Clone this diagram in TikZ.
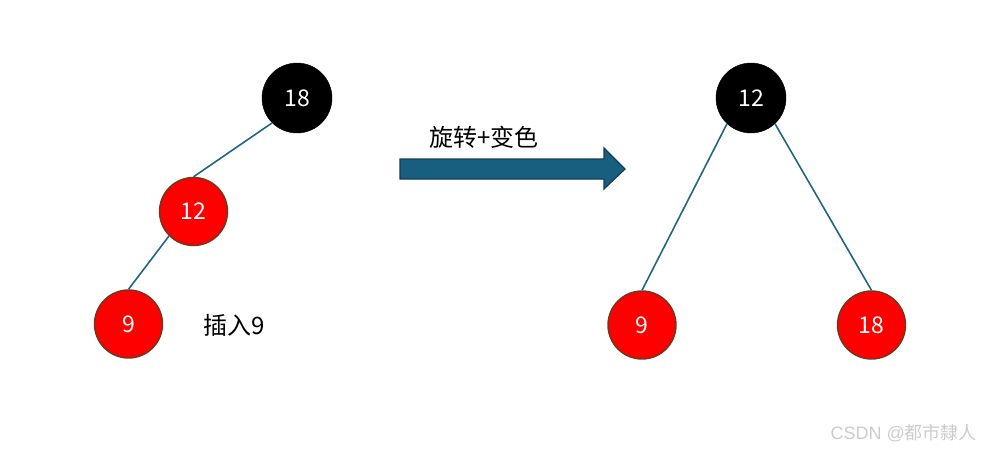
\documentclass[tikz,border=0pt]{standalone}
\usepackage{fontspec}
\setmainfont{Noto Sans CJK SC}
\newfontfamily\wmfont{Liberation Sans}
\newfontfamily\wmcjk{Noto Sans CJK SC}
\definecolor{edgec}{HTML}{1F6686}
\definecolor{arrowfill}{HTML}{185E7E}
\definecolor{arrowdraw}{HTML}{123F55}
\definecolor{redborder}{HTML}{6B3A1E}
\tikzset{
  blacknode/.style={circle, fill=black, draw=black, minimum size=70pt, inner sep=0pt, text=white, font=\fontsize{23}{25}\selectfont},
  rednode/.style={circle, fill=red, draw=redborder, line width=1.4pt, minimum size=68pt, inner sep=0pt, text=white, font=\fontsize{23}{25}\selectfont},
  treeedge/.style={draw=edgec, line width=1.6pt},
  label text/.style={font=\fontsize{24}{27}\selectfont, text=black, inner sep=0pt},
}
\begin{document}
\begin{tikzpicture}[x=1pt, y=-1pt]
\useasboundingbox (0,0) rectangle (981,451);
% left tree
\node[blacknode] (a18) at (297,98) {18};
\node[rednode] (a12) at (193.5,211.5) {12};
\node[rednode] (a9) at (128.5,324) {9};
\draw[treeedge] (a18.225) -- (a12.north);
\draw[treeedge] (a12.225) -- (a9.north);
\node[label text, anchor=west] (ins) at (203,325) {插入9};
% arrow
\draw[fill=arrowfill, draw=arrowdraw, line width=1.2pt, line join=miter]
  (400,159) -- (604,159) -- (604,148) -- (625,169) -- (604,189) -- (604,179) -- (400,179) -- cycle;
\node[label text, anchor=west] (rot) at (429,137) {旋转+变色};
% right tree
\node[blacknode] (b12) at (751,98) {12};
\node[rednode] (b9) at (642,325) {9};
\node[rednode] (b18) at (871.5,325) {18};
\draw[treeedge] (b12.227) -- (b9.north);
\draw[treeedge] (b12.-47) -- (b18.north);
% watermark
\node[anchor=east, text=black!20, inner sep=0pt, font=\fontsize{18}{20}\selectfont] (wm) at (977,433) {\wmfont CSDN @\wmcjk 都市隸人};
\end{tikzpicture}
\end{document}
